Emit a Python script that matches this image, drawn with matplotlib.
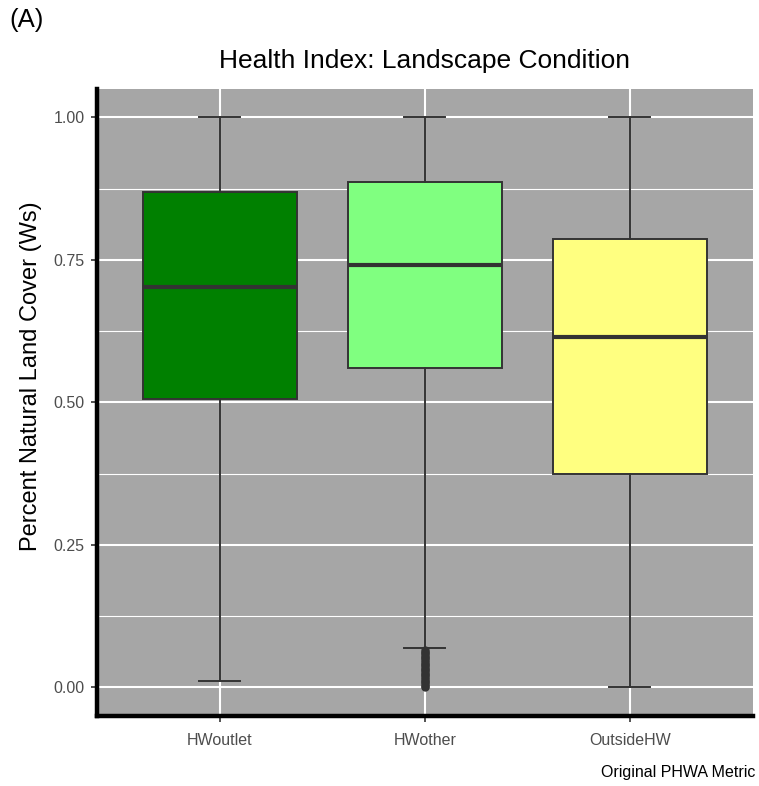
import matplotlib.pyplot as plt
from matplotlib.ticker import MultipleLocator

plt.rcParams["font.family"] = ["Liberation Sans", "DejaVu Sans"]

categories = ["HWoutlet", "HWother", "OutsideHW"]
whislo = [0.012, 0.070, 0.0]
q1 = [0.506, 0.560, 0.375]
med = [0.702, 0.741, 0.615]
q3 = [0.870, 0.886, 0.786]
whishi = [1.0, 1.0, 1.0]
fills = ["#008000", "#80FF80", "#FFFF80"]
# low outliers for HWother (dense stack near zero)
hwother_outliers = [0.066, 0.063, 0.060, 0.057, 0.054, 0.051, 0.048, 0.045,
                    0.042, 0.039, 0.036, 0.033, 0.030, 0.027, 0.024, 0.021,
                    0.018, 0.015, 0.012, 0.009, 0.006, 0.003, 0.0]
fliers = [[], hwother_outliers, []]

stats = []
for i, name in enumerate(categories):
    stats.append(dict(label=name, whislo=whislo[i], q1=q1[i], med=med[i],
                      q3=q3[i], whishi=whishi[i], fliers=fliers[i]))

fig = plt.figure(figsize=(7.59, 7.86), dpi=100)
ax = fig.add_axes([0.1278, 0.0891, 0.8642, 0.7977])
ax.set_facecolor("#A6A6A6")

box_col = "#333333"
bp = ax.bxp(stats, positions=[1, 2, 3], widths=0.75, patch_artist=True,
            boxprops=dict(edgecolor=box_col, linewidth=1.4),
            medianprops=dict(color=box_col, linewidth=3),
            whiskerprops=dict(color=box_col, linewidth=1.4),
            capprops=dict(color=box_col, linewidth=1.4),
            capwidths=0.2,
            flierprops=dict(marker="o", markerfacecolor=box_col,
                            markeredgecolor=box_col, markersize=5),
            zorder=3)
for patch, c in zip(bp["boxes"], fills):
    patch.set_facecolor(c)

ax.set_xlim(0.4, 3.6)
ax.set_ylim(-0.05, 1.05)
ax.yaxis.set_minor_locator(MultipleLocator(0.125))
ax.set_yticks([0, 0.25, 0.5, 0.75, 1.0])
ax.set_yticklabels(["0.00", "0.25", "0.50", "0.75", "1.00"])
ax.set_xticks([1, 2, 3])
ax.set_xticklabels(categories)

ax.grid(which="major", color="white", linewidth=1.5, zorder=0)
ax.grid(which="minor", axis="y", color="white", linewidth=0.8, zorder=0)
ax.set_axisbelow(True)

for s in ["top", "right"]:
    ax.spines[s].set_visible(False)
for s in ["left", "bottom"]:
    ax.spines[s].set_linewidth(3.2)
    ax.spines[s].set_color("black")

ax.tick_params(which="major", length=4, width=1.2, color="#333333",
               labelcolor="#4D4D4D", labelsize=11.5)
ax.tick_params(axis="y", pad=5)
ax.tick_params(axis="x", pad=8)
ax.tick_params(which="minor", length=0)

ax.set_ylabel("Percent Natural Land Cover (Ws)", fontsize=17)
ax.yaxis.set_label_coords(-0.084, 0.542)
ax.set_title("Health Index: Landscape Condition", fontsize=19, pad=15)

fig.text(0.012, 0.99, "(A)", fontsize=18.5, ha="left", va="top")
fig.text(0.995, 0.008, "Original PHWA Metric", fontsize=11.5, ha="right", va="bottom")

fig.savefig("out.png", dpi=100)
